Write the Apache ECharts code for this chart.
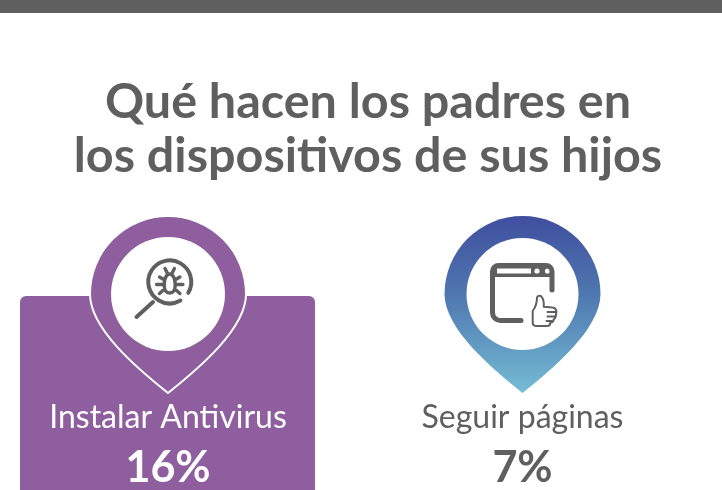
<!DOCTYPE html>
<html>
<head>
<meta charset="utf-8">
<style>
html, body { margin: 0; padding: 0; background: #fff; }
#main { width: 722px; height: 490px; }
</style>
<script src="https://cdn.jsdelivr.net/npm/echarts@6/dist/echarts.min.js"></script>
</head>
<body>
<div id="main"></div>
<script>
'use strict';
var titleLines = ['Qué hacen los padres en', 'los dispositivos de sus hijos'];
var categories = ['Instalar Antivirus', 'Seguir páginas'];
var values = [16, 7];
var highlighted = [true, false];

var GRAY = '#5f5f5f';
var PURPLE = '#8f5e9e';
var FONT = 'Lato';

// iconos, relativos al centro del pin
var PIN_PATH = 'M-78 0A78 78 0 1 1 78 0C78 35 30 75 0 99C-30 75-78 35-78 0Z';
var BUG_LENS = 'M20.3-1.2A21.5 21.5 0 1 0 12.4 6.6M-15 8L-31.5 23';
var BUG_BODY = 'M1.7-20C5.5-20 7.2-14 7.2-9C7.2-3.5 5-1 1.7-1C-1.6-1-3.8-3.5-3.8-9C-3.8-14-2.1-20 1.7-20Z' +
	'M-3-25.5L-.5-20.5M6.4-25.5L3.9-20.5' +
	'M-3.5-14L-8.5-17M-4-9.5H-11.5M-3.5-5L-8.5-.5' +
	'M6.9-14L11.9-17M7.4-9.5H14.9M6.9-5L11.9-.5';
var WIN_FRAME = 'M-1.5 26.5H-22A8 8 0 0 1-30 18.5V-22.5A6 6 0 0 1-24-28.5H23.5A6 6 0 0 1 29.5-22.5V-4';
var WIN_HEAD = 'M-30-28.5H29.5V-17H-30Z';
var THUMB = 'M10.2 17V28.7C10.2 31 12 32 14.5 32H24.5C26.5 32 27.8 30.5 27.8 28.7C30 28.5 31.2 27 31.2 25.3' +
	'C33 24.5 33.5 22.5 33.5 20.3C34.5 17 33.5 13.7 30 13.5L21.2 12.7C21.5 9 21 5.5 19.5 3.2' +
	'C18.5 1.2 15 1 14.5 3.5C14.5 8 14 12 10.2 17Z' +
	'M25 18H33M25 22.5H33M24 27H29';

function strokePath(d, width) {
	return {
		type: 'path',
		shape: { pathData: d },
		style: { fill: 'none', stroke: GRAY, lineWidth: width, lineCap: 'round', lineJoin: 'round' }
	};
}

function iconBug() {
	return [strokePath(BUG_LENS, 4), strokePath(BUG_BODY, 3.4)];
}

function iconWindow() {
	return [
		{ type: 'path', shape: { pathData: WIN_HEAD }, style: { fill: GRAY } },
		{ type: 'rect', shape: { x: -25.5, y: -25.5, width: 34, height: 5 }, style: { fill: '#fff' } },
		{ type: 'circle', shape: { cx: 14.5, cy: -23, r: 2.6 }, style: { fill: '#fff' } },
		{ type: 'circle', shape: { cx: 25, cy: -23, r: 2.6 }, style: { fill: '#fff' } },
		strokePath(WIN_FRAME, 5),
		strokePath(THUMB, 2)
	];
}

function renderPin(params, api) {
	var i = api.value(0);
	var pt = api.coord([i, 0]);
	var on = highlighted[i];
	var fg = on ? '#fff' : GRAY;
	var fill = on ? PURPLE : new echarts.graphic.LinearGradient(0, 0, 0, 1, [
		{ offset: 0, color: '#3f4e9e' },
		{ offset: 0.45, color: '#4f78b0' },
		{ offset: 1, color: '#74bcd4' }
	]);
	var children = [];
	if (on) {
		children.push({
			type: 'rect',
			shape: { x: -148, y: 2, width: 295, height: 200, r: [6, 6, 0, 0] },
			style: { fill: PURPLE }
		});
	}
	children.push({
		type: 'path',
		shape: { pathData: PIN_PATH },
		style: on ? { fill: fill, stroke: '#fff', lineWidth: 2 } : { fill: fill }
	});
	children.push({ type: 'circle', shape: { cx: 0, cy: 0, r: on ? 57 : 56 }, style: { fill: '#fff' } });
	children = children.concat(on ? iconBug() : iconWindow());
	children.push({
		type: 'text',
		style: {
			text: categories[i], x: 0, y: 124, fill: fg, align: 'center', verticalAlign: 'middle',
			font: '400 32px ' + FONT
		}
	});
	children.push({
		type: 'text',
		style: {
			text: api.value(1) + '%', x: 0, y: 174, fill: fg, align: 'center', verticalAlign: 'middle',
			font: '700 43px ' + FONT
		}
	});
	return { type: 'group', x: pt[0], y: pt[1], children: children };
}

var chart = echarts.init(document.getElementById('main'), null, { renderer: 'canvas' });
chart.setOption({
	animation: false,
	backgroundColor: '#fff',
	title: titleLines.map(function (line, i) {
		return {
			text: line,
			left: 363,
			top: 70 + i * 54,
			textAlign: 'center',
			textStyle: { color: GRAY, fontFamily: FONT, fontWeight: 700, fontSize: 48.5, lineHeight: 55 }
		};
	}),
	graphic: [{
		type: 'rect',
		shape: { x: 0, y: 0, width: 722, height: 13 },
		style: { fill: GRAY }
	}],
	grid: { left: -9.25, width: 709, top: 294, height: 100, outerBoundsMode: 'none' },
	xAxis: { type: 'category', data: categories, show: false },
	yAxis: { type: 'value', min: 0, max: 100, inverse: true, show: false },
	series: [{
		type: 'custom',
		clip: false,
		renderItem: renderPin,
		encode: { x: 0 },
		data: values.map(function (v, i) { return [i, v]; })
	}]
});
</script>
</body>
</html>
